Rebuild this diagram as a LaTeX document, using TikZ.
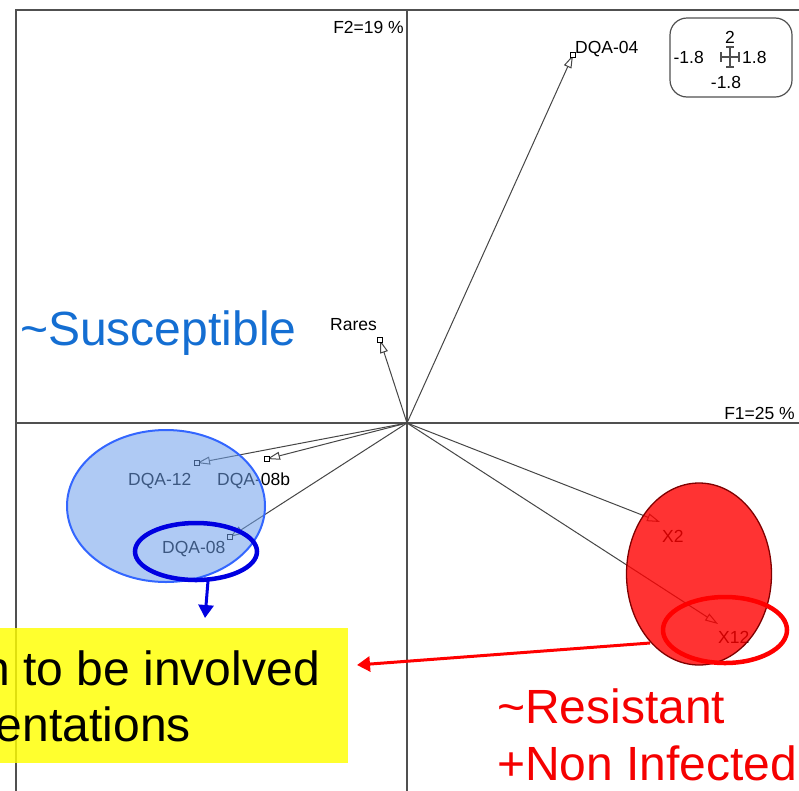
\documentclass[tikz,border=0pt]{standalone}
\usepackage{fontspec}
\setmainfont{Liberation Sans}
\usetikzlibrary{arrows.meta}
\definecolor{framegray}{RGB}{80,80,80}
\definecolor{vecgray}{RGB}{70,70,70}
\definecolor{ellblue}{RGB}{110,160,235}
\definecolor{ellblueline}{RGB}{51,102,255}
\definecolor{ringblue}{RGB}{0,0,225}
\definecolor{ellredline}{RGB}{128,0,0}
\definecolor{susblue}{RGB}{20,110,210}
\definecolor{resred}{RGB}{245,0,0}
\definecolor{noteyellow}{RGB}{255,255,0}
\begin{document}
\begin{tikzpicture}[x=1pt,y=-1pt,
  lbl/.style={font=\fontsize{17.5}{20}\selectfont, inner sep=0pt, anchor=base west, text=black},
  vec/.style={draw=vecgray, line width=1pt, -{Triangle[open,length=13pt,width=8pt,line width=1pt]}},
  sqmark/.style={draw=black, fill=white, line width=1.2pt, minimum size=4.5pt, inner sep=0pt, shape=rectangle},
  bigtxt/.style={font=\fontsize{48}{56}\selectfont, inner sep=0pt, anchor=base west},
  frameline/.style={draw=framegray, line width=2pt},
  axisline/.style={draw=framegray, line width=1.5pt},
  ring/.style={line width=4.5pt},
  callout/.style={line width=3pt, -{Triangle[length=13pt,width=15pt]}},
]
\useasboundingbox (0,0) rectangle (799,790);
\fill[white] (0,0) rectangle (799,790);
\begin{scope}
\clip (0,0) rectangle (799,790);
% frame
\coordinate (ftl) at (16,10);
\coordinate (fbl) at (16,800);
\coordinate (ftr) at (810,10);
\draw[frameline] (fbl) -- (ftl) -- (ftr);
% axes
\coordinate (O) at (407,423);
\coordinate (axL) at (16,423);
\coordinate (axR) at (810,423);
\coordinate (axT) at (407,10);
\coordinate (axB) at (407,800);
\draw[axisline] (axL) -- (axR);
\draw[axisline] (axT) -- (axB);
\node[lbl, anchor=base east] (f2) at (404,33) {F2=19 \%};
\node[lbl, anchor=base east] (f1) at (795,419) {F1=25 \%};
% legend
\node[draw=framegray, line width=1.2pt, rounded corners=17pt, minimum width=122pt, minimum height=79pt, inner sep=0pt] (legend) at (731,57.5) {};
\node[lbl, anchor=base] (lg2) at (730,43) {2};
\node[lbl, anchor=base east] (lgl) at (704,63) {-1.8};
\node[lbl, anchor=base west] (lgr) at (742,63) {1.8};
\node[lbl, anchor=base] (lgb) at (726,88) {-1.8};
\draw[framegray, line width=1.1pt] (721,57) -- (739,57) (721,52) -- (721,62) (739,52) -- (739,62)
  (730,47) -- (730,67) (726,47) -- (734,47) (726,67) -- (734,67);
% vectors
\coordinate (p04) at (573,55);
\coordinate (pRa) at (380,340);
\coordinate (p12) at (197,463);
\coordinate (p08b) at (267,459);
\coordinate (p08) at (230,537);
\coordinate (pX2) at (660,522);
\coordinate (pX12) at (718,624);
\foreach \p in {p04,pRa,p12,p08b,p08,pX2,pX12}{
  \draw[vec] (O) -- (\p);
}
\foreach \p in {p04,pRa,p12,p08b,p08}{
  \node[sqmark] at (\p) {};
}
\node[lbl] (l04) at (575,53) {DQA-04};
\node[lbl] (lRa) at (330,330) {Rares};
\node[lbl] (l12) at (128,485) {DQA-12};
\node[lbl] (l08b) at (217,485) {DQA-08b};
\node[lbl] (l08) at (162,553) {DQA-08};
\node[lbl] (lX2) at (662,542) {X2};
\node[lbl] (lX12) at (718,643) {X12};
% group ellipses
\draw[draw=ellblueline, line width=2pt, fill=ellblue, fill opacity=0.55] (166,506) ellipse [x radius=99pt, y radius=76pt];
\draw[draw=ellredline, line width=1.3pt, fill=red, fill opacity=0.8] (699,574) ellipse [x radius=72.5pt, y radius=91pt];
% highlight rings and callouts
\draw[ring, ringblue] (196,551.5) ellipse [x radius=61pt, y radius=28.5pt];
\draw[ring, red] (725,630) ellipse [x radius=62pt, y radius=33pt];
\coordinate (ba1) at (208,581);
\coordinate (ba2) at (205,618);
\draw[callout, ringblue] (ba1) -- (ba2);
\coordinate (ra1) at (650,643);
\coordinate (ra2) at (357,665);
\draw[callout, red] (ra1) -- (ra2);
% note box
\fill[noteyellow, fill opacity=0.82] (-5,628) rectangle (348,763);
\node[bigtxt, anchor=base east] (n1) at (320,685) {n to be involved};
\node[bigtxt, anchor=base east] (n2) at (191,741) {entations};
% group labels
\node[bigtxt, text=susblue] (sus) at (20,345) {\textasciitilde Susceptible};
\node[bigtxt, text=resred] (res) at (497,723) {\textasciitilde Resistant};
\node[bigtxt, text=resred] (noninf) at (497,780) {+Non Infected};
\end{scope}
\end{tikzpicture}
\end{document}
